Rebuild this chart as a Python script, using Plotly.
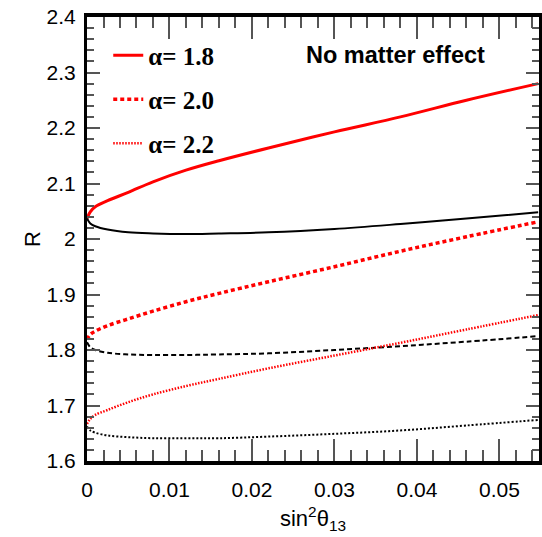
import plotly.graph_objects as go

# sin^2(theta13) sample positions
s13 = [0, 0.0004, 0.001, 0.0025, 0.005, 0.008, 0.012, 0.016, 0.022, 0.03, 0.038, 0.046, 0.0547]

# upper (red) and lower (black) branches for each alpha
r18_up = [2.037, 2.049, 2.058, 2.069, 2.084, 2.103, 2.124, 2.141, 2.164, 2.193, 2.220, 2.250, 2.280]
r18_lo = [2.037, 2.028, 2.023, 2.017, 2.012, 2.010, 2.009, 2.010, 2.012, 2.018, 2.027, 2.037, 2.048]
r20_up = [1.819, 1.828, 1.834, 1.844, 1.856, 1.870, 1.887, 1.902, 1.923, 1.950, 1.978, 2.004, 2.031]
r20_lo = [1.814, 1.805, 1.800, 1.795, 1.792, 1.791, 1.791, 1.792, 1.794, 1.800, 1.807, 1.815, 1.825]
r22_up = [1.667, 1.676, 1.683, 1.692, 1.706, 1.720, 1.735, 1.748, 1.767, 1.790, 1.813, 1.837, 1.863]
r22_lo = [1.662, 1.655, 1.651, 1.646, 1.643, 1.641, 1.641, 1.641, 1.644, 1.649, 1.655, 1.664, 1.674]

labels = ["α= 1.8", "α= 2.0", "α= 2.2"]

fig = go.Figure()

red_styles = [dict(width=3, dash="solid"), dict(width=3.5, dash="4px,3px"), dict(width=2.5, dash="1.5px,1.5px")]
blk_styles = [dict(width=2, dash="solid"), dict(width=2, dash="5px,3px"), dict(width=2, dash="2px,2px")]
ups = [r18_up, r20_up, r22_up]
los = [r18_lo, r20_lo, r22_lo]

for i in range(3):
    fig.add_trace(go.Scatter(x=s13, y=ups[i], mode="lines", name="<b>" + labels[i] + "</b>",
                             legendgroup=f"g{i}",
                             line=dict(color="#ff0000", shape="spline", **red_styles[i])))
    fig.add_trace(go.Scatter(x=s13, y=los[i], mode="lines", showlegend=False,
                             legendgroup=f"g{i}",
                             line=dict(color="#000000", shape="spline", **blk_styles[i])))

sans = "Liberation Sans, Arial, sans-serif"
tickfont = dict(family=sans, size=21, color="#000")

fig.update_layout(
    width=542, height=537,
    margin=dict(l=87, r=0, t=17, b=76),
    paper_bgcolor="white", plot_bgcolor="white",
    showlegend=True,
    legend=dict(x=0.047, y=0.965, xanchor="left", yanchor="top",
                bgcolor="rgba(0,0,0,0)", borderwidth=0,
                font=dict(family="Liberation Serif, Times New Roman, serif", size=25, color="#000"),
                tracegroupgap=8.5, itemwidth=30),
    annotations=[dict(text="<b>No matter effect</b>", x=0.683, y=0.914, xref="paper", yref="paper",
                      xanchor="center", yanchor="middle",
                      showarrow=False, font=dict(family=sans, size=23.5, color="#000"))],
)

fig.update_xaxes(range=[0, 0.0548], tickvals=[0, 0.01, 0.02, 0.03, 0.04, 0.05],
                 ticktext=["0", "0.01", "0.02", "0.03", "0.04", "0.05"],
                 ticks="inside", ticklen=22, tickwidth=1.5, tickcolor="#555",
                 minor=dict(dtick=0.002, tick0=0, ticks="inside", ticklen=11, tickwidth=1.5, tickcolor="#555"),
                 showline=True, linewidth=3.5, linecolor="#000", mirror="ticks",
                 showgrid=False, zeroline=False, tickfont=tickfont, ticklabelstandoff=7,
                 title=dict(text="sin<sup>2</sup>θ<sub>13</sub>", standoff=12,
                            font=dict(family=sans, size=22, color="#000")))
fig.update_yaxes(range=[1.6, 2.4],
                 tickvals=[1.6, 1.7, 1.8, 1.9, 2.0, 2.1, 2.2, 2.3, 2.4],
                 ticktext=["1.6", "1.7", "1.8", "1.9", "2", "2.1", "2.2", "2.3", "2.4"],
                 ticks="inside", ticklen=13, tickwidth=1.5, tickcolor="#555",
                 minor=dict(dtick=0.02, tick0=1.6, ticks="inside", ticklen=7, tickwidth=1.5, tickcolor="#555"),
                 showline=True, linewidth=3, linecolor="#000", mirror="ticks",
                 showgrid=False, zeroline=False, tickfont=tickfont, ticklabelstandoff=4,
                 title=dict(text="R", standoff=0,
                            font=dict(family=sans, size=22, color="#000")))

fig.write_html("out.html")
